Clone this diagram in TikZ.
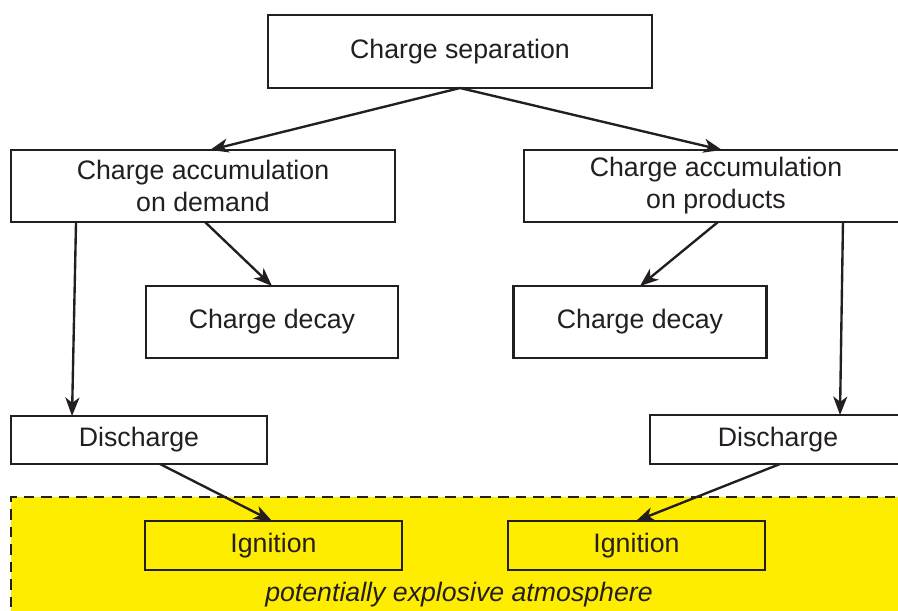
\documentclass[tikz,border=0pt]{standalone}
\usepackage{fontspec}
\setmainfont{Liberation Sans}
\usepackage{xcolor}
\usepackage{tikz}
\usetikzlibrary{arrows.meta, positioning}

\definecolor{inkgray}{HTML}{231F20}
\definecolor{zoneyellow}{HTML}{FFED00}

\begin{document}
\begin{tikzpicture}[x=0.02cm, y=-0.02cm]
            % Block style
            \tikzstyle{block} = [rectangle, draw=inkgray, line width=1.35pt, fill=white, text=inkgray, align=center, inner sep=0pt, outer sep=0pt, font=\fontsize{15.2pt}{18.2pt}\selectfont]
            \tikzstyle{link} = [draw=inkgray, line width=1.35pt, -{Stealth[length=10.5pt, width=8pt, inset=3pt]}]

            \useasboundingbox (0,0) rectangle (898,611);
            \clip (0,0) rectangle (898,611);

            % Hazard zone (drawn first, boxes sit on it)
            \node[rectangle, fill=zoneyellow, draw=inkgray, line width=1.35pt, dash pattern=on 6pt off 4pt, minimum width=17.98cm, minimum height=2.46cm, inner sep=0pt] (zone) at (460.5,558.5) {};
            \node[text=inkgray, font=\fontsize{15.2pt}{18.2pt}\selectfont\itshape] (zonelabel) at (459,595) {potentially explosive atmosphere};

            % Source
            \node[block, minimum width=7.68cm, minimum height=1.46cm] (separation) at (460,51.5) {Charge separation};

            % Accumulation
            \node[block, minimum width=7.68cm, minimum height=1.44cm] (accum_demand) at (203,186) {Charge accumulation\\on demand};
            \node[block, minimum width=7.68cm, minimum height=1.44cm] (accum_products) at (716,186) {Charge accumulation\\on products};

            % Decay
            \node[block, minimum width=5.04cm, minimum height=1.44cm] (decay_demand) at (272,322) {Charge decay};
            \node[block, minimum width=5.06cm, minimum height=1.44cm] (decay_products) at (640,322) {Charge decay};

            % Discharge
            \node[block, minimum width=5.12cm, minimum height=0.96cm] (discharge_demand) at (139,440) {Discharge};
            \node[block, minimum width=5.12cm, minimum height=0.98cm] (discharge_products) at (778,439.5) {Discharge};

            % Ignition (inside the zone)
            \node[block, fill=zoneyellow, minimum width=5.14cm, minimum height=0.98cm] (ignition_demand) at (273.5,545.5) {Ignition};
            \node[block, fill=zoneyellow, minimum width=5.14cm, minimum height=0.98cm] (ignition_products) at (636.5,545.5) {Ignition};

            % Connections
            \draw[link] (separation.south) -- ([xshift=0.14cm]accum_demand.north);
            \draw[link] (separation.south) -- ([xshift=0.12cm]accum_products.north);

            \draw[link] ([xshift=-2.54cm]accum_demand.south) -- ([xshift=-1.34cm]discharge_demand.north);
            \draw[link] ([xshift=0.04cm]accum_demand.south) -- (decay_demand.north);
            \draw[link] ([xshift=0.04cm]accum_products.south) -- (decay_products.north);
            \draw[link] ([xshift=2.54cm]accum_products.south) -- ([xshift=1.24cm]discharge_products.north);

            \draw[link] ([xshift=0.42cm]discharge_demand.south) -- ([xshift=-0.03cm]ignition_demand.north);
            \draw[link] ([xshift=0.04cm]discharge_products.south) -- ([xshift=-0.01cm]ignition_products.north);
        \end{tikzpicture}
\end{document}
